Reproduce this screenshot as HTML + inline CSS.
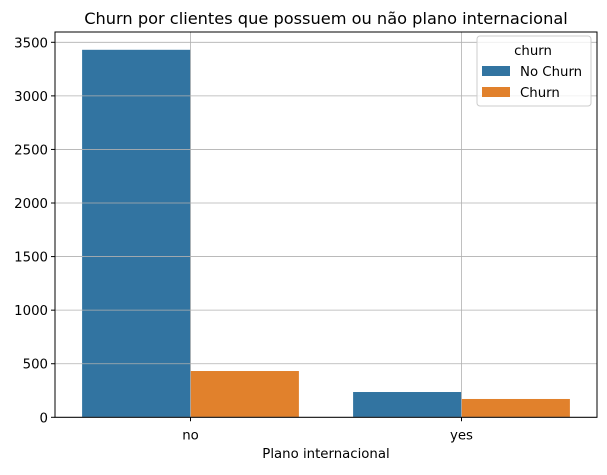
<!DOCTYPE html>
<html><head><meta charset="utf-8"><style>
body{margin:0;background:#fff;font-family:"Liberation Sans","DejaVu Sans",sans-serif;}
</style></head><body>
<svg id="chart" width="607" height="470" xmlns="http://www.w3.org/2000/svg" font-family="DejaVu Sans, Liberation Sans, sans-serif"></svg>
<script>
const categories = ["no", "yes"];
const seriesNames = ["No Churn", "Churn"];
const noChurnValues = [3430, 236];
const churnValues = [432, 171];
const yTicks = [0, 500, 1000, 1500, 2000, 2500, 3000, 3500];
const colors = ["#3274a1", "#e1812c"];

const svg = document.getElementById('chart');
const NS = "http://www.w3.org/2000/svg";
const L = 55, R = 597, T = 32, B = 417.3;
const FS = 13.3;
const yScale = v => B - v * (375 / 3500);
const bandW = (R - L) / categories.length;
const xCenter = i => L + bandW * (i + 0.5);
function el(tag, attrs, text) {
  const e = document.createElementNS(NS, tag);
  for (const k in attrs) e.setAttribute(k, attrs[k]);
  if (text !== undefined) e.textContent = text;
  svg.appendChild(e);
  return e;
}
// bars
const series = [noChurnValues, churnValues];
const barW = bandW * 0.8 / 2;
series.forEach((vals, s) => {
  vals.forEach((v, i) => {
    const x = xCenter(i) - bandW * 0.4 + s * barW;
    const r = el('rect', {x: x, y: yScale(v), width: barW, height: B - yScale(v), fill: colors[s]});
    
    
  });
});
// grid over bars
categories.forEach((c, i) => {
  const g = el('line', {x1: xCenter(i), x2: xCenter(i), y1: T, y2: B, stroke: '#b0b0b0', 'stroke-width': 0.8});
  
  
});
yTicks.forEach(t => {
  const g = el('line', {x1: L, x2: R, y1: yScale(t), y2: yScale(t), stroke: '#b0b0b0', 'stroke-width': 0.8});
  
  
});
// frame
const f = el('rect', {x: L, y: T, width: R - L, height: B - T, fill: 'none', stroke: '#000', 'stroke-width': 1});


// y ticks
yTicks.forEach(t => {
  const tk = el('line', {x1: L - 4, x2: L, y1: yScale(t), y2: yScale(t), stroke: '#000'});
  
  
  const lb = el('text', {x: L - 7, y: yScale(t) + 5, 'text-anchor': 'end', 'font-size': FS, fill: '#000'}, t);
  
  
});
categories.forEach((c, i) => {
  const tk = el('line', {x1: xCenter(i), x2: xCenter(i), y1: B, y2: B + 4, stroke: '#000'});
  
  
  const lb = el('text', {x: xCenter(i), y: B + 22, 'text-anchor': 'middle', 'font-size': FS, fill: '#000'}, c);
  
  
});
const xt = el('text', {x: (L + R) / 2, y: 458, 'text-anchor': 'middle', 'font-size': FS}, 'Plano internacional');


const tt = el('text', {x: (L + R) / 2, y: 24, 'text-anchor': 'middle', 'font-size': 16.2}, 'Churn por clientes que possuem ou não plano internacional');


// legend
const lg = el('rect', {x: 477, y: 36, width: 114, height: 70, rx: 3, fill: '#fff', 'fill-opacity': 0.8, stroke: '#cccccc'});


const lt = el('text', {x: 533, y: 55, 'text-anchor': 'middle', 'font-size': FS}, 'churn');


seriesNames.forEach((n, s) => {
  const y = 66 + s * 21;
  const sw = el('rect', {x: 482, y: y, width: 28, height: 10, fill: colors[s]});
  
  
  const tx = el('text', {x: 520, y: y + 10, 'font-size': FS}, n);
  
  
});
</script>
</body></html>
